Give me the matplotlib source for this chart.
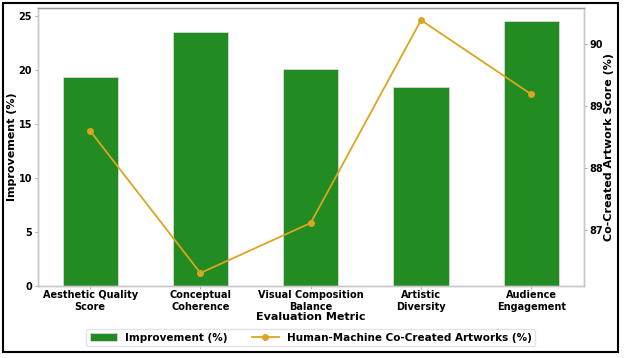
import matplotlib
matplotlib.use("Agg")
import matplotlib.pyplot as plt
from matplotlib.patches import Rectangle
from matplotlib.ticker import MultipleLocator
import numpy as np

categories = ["Aesthetic Quality\nScore", "Conceptual\nCoherence", "Visual Composition\nBalance",
              "Artistic\nDiversity", "Audience\nEngagement"]
improvement = [19.37, 23.55, 20.07, 18.47, 24.57]
cocreated = [88.60, 86.30, 87.11, 90.39, 89.19]

plt.rcParams['font.family'] = 'DejaVu Sans'
plt.rcParams['font.weight'] = 'bold'

fig = plt.figure(figsize=(6.25, 3.58), dpi=100)
ax = fig.add_axes([0.0603, 0.202, 0.8737, 0.777])
x = np.arange(len(categories))
bars = ax.bar(x, improvement, width=0.5, color='#228B22', edgecolor='#d8d8d8', linewidth=0.6,
              label='Improvement (%)')
ax.set_xticks(x)
ax.set_xticklabels(categories, fontsize=7, fontweight='bold', linespacing=1.25)
ax.set_ylabel('Improvement (%)', fontsize=8, fontweight='bold', labelpad=1)
ax.set_xlabel('Evaluation Metric', fontsize=8, fontweight='bold', labelpad=0)
ax.tick_params(axis='both', labelsize=7, length=2, width=0.5, color='#888888', pad=2)
ax.tick_params(axis='x', pad=1)
for lab in ax.get_yticklabels():
    lab.set_fontweight('bold')

ax2 = ax.twinx()
line, = ax2.plot(x, cocreated, color='#DAA520', marker='o', markersize=4, linewidth=1.3,
                 label='Human-Machine Co-Created Artworks (%)')
ax2.yaxis.set_major_locator(MultipleLocator(1))
ax2.set_ylabel('Co-Created Artwork Score (%)', fontsize=8, fontweight='bold', labelpad=1)
ax2.tick_params(axis='y', labelsize=7, length=2, width=0.5, color='#888888', pad=2)
for lab in ax2.get_yticklabels():
    lab.set_fontweight('bold')

for a in (ax, ax2):
    for s in a.spines.values():
        s.set_color('#c8c8c8')
        s.set_linewidth(1.0)
ax2.spines['top'].set_color('#999999')

leg = ax.legend([bars, line], ['Improvement (%)', 'Human-Machine Co-Created Artworks (%)'],
                loc='upper center', bbox_to_anchor=(0.5, -0.137), ncol=2,
                frameon=True, prop={'weight': 'bold', 'size': 7.5}, columnspacing=2.3,
                handlelength=2.6, borderpad=0.35)
leg.get_frame().set_edgecolor('#dddddd')

fig.patches.append(Rectangle((3/625, 6.5/358), 614.5/625, 348.5/358, transform=fig.transFigure,
                             fill=False, edgecolor='black', linewidth=1.5, zorder=10))

fig.savefig('out.png', dpi=100)
